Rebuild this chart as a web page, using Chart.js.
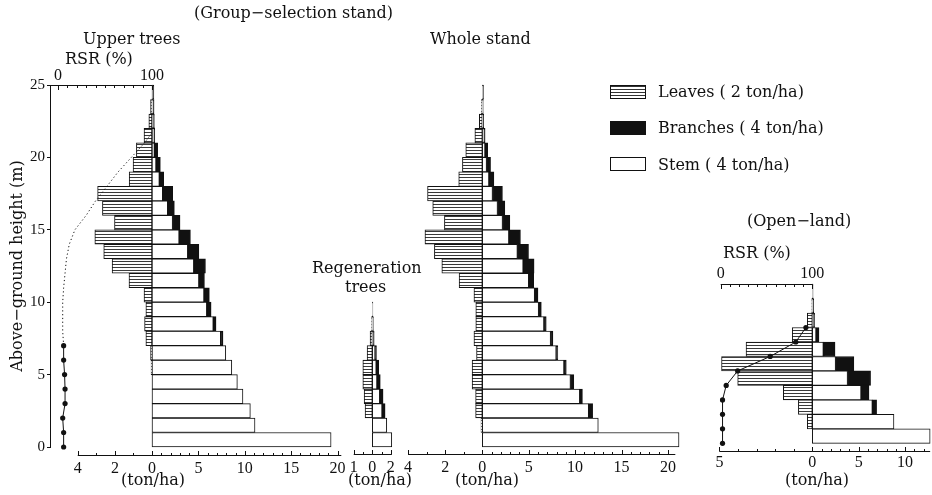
<!DOCTYPE html>
<html>
<head>
<meta charset="utf-8">
<title>Stratified clip diagrams</title>
<script src="https://cdn.jsdelivr.net/npm/chart.js@4.4.1/dist/chart.umd.min.js"></script>
<style>
  body { margin: 0; background: #fff; }
  #wrap { position: relative; width: 932px; height: 495px; overflow: hidden; background: #fff; }
  #wrap canvas { position: absolute; top: 0; }
  .t { position: absolute; font-family: 'DejaVu Serif', serif; font-size: 16px; line-height: 20px; color: #111; white-space: nowrap; }
  .key { position: absolute; left: 610px; width: 34px; height: 12px; border: 1px solid #111; }
</style>
</head>
<body>
<div id="wrap">
  <canvas id="upper" width="370" height="495" style="left:0px"></canvas>
  <canvas id="regen" width="80" height="495" style="left:330px"></canvas>
  <canvas id="whole" width="310" height="495" style="left:385px"></canvas>
  <canvas id="open" width="237" height="495" style="left:695px"></canvas>

  <div class="t" style="left:194px;top:3px">(Group−selection stand)</div>
  <div class="t" style="left:83px;top:29px">Upper trees</div>
  <div class="t" style="left:65px;top:49px">RSR (%)</div>
  <div class="t" style="left:430px;top:29px">Whole stand</div>
  <div class="t" style="left:312px;top:258px">Regeneration</div>
  <div class="t" style="left:345px;top:277px">trees</div>
  <div class="t" style="left:747px;top:211px">(Open−land)</div>
  <div class="t" style="left:723px;top:243px">RSR (%)</div>
  <div class="t" style="left:121px;top:470px">(ton/ha)</div>
  <div class="t" style="left:348px;top:470px">(ton/ha)</div>
  <div class="t" style="left:455px;top:470px">(ton/ha)</div>
  <div class="t" style="left:785px;top:470px">(ton/ha)</div>

  <div class="key" style="top:85px;background:repeating-linear-gradient(#333 0 1px,#fff 1px 3px)"></div>
  <div class="key" style="top:121px;background:#111"></div>
  <div class="key" style="top:157px;background:#fff"></div>
  <div class="t" style="left:658px;top:82px">Leaves ( 2 ton/ha)</div>
  <div class="t" style="left:658px;top:118px">Branches ( 4 ton/ha)</div>
  <div class="t" style="left:658px;top:155px">Stem ( 4 ton/ha)</div>
</div>

<script>
// Productive structure of a group-selection stand and an open-land stand

// layers are 1 m thick, named by their lower height (m)
const upperLayers = [0, 1, 2, 3, 4, 5, 6, 7, 8, 9, 10, 11, 12, 13, 14, 15, 16, 17, 18, 19, 20, 21, 22, 23, 24];
const upperStem = [19.3, 11.1, 10.6, 9.8, 9.2, 8.6, 7.95, 7.4, 6.6, 5.9, 5.6, 5.05, 4.5, 3.85, 2.92, 2.22, 1.69, 1.15, 0.79, 0.43, 0.25, 0.25, 0.2, 0.1, 0.05];
const upperBranches = [0, 0, 0, 0, 0, 0, 0, 0.25, 0.3, 0.47, 0.58, 0.6, 1.26, 1.2, 1.22, 0.8, 0.72, 1.08, 0.47, 0.47, 0.36, 0.05, 0.05, 0.12, 0.15];
const upperLeaves = [0, 0, 0, 0, 0, 0.05, 0.08, 0.33, 0.4, 0.33, 0.43, 1.24, 2.15, 2.6, 3.08, 2.02, 2.67, 2.93, 1.23, 1.02, 0.84, 0.43, 0.17, 0.08, 0];

// relative light intensity (RSR %) in the upper-tree stand
const upperRsrHeights = [0, 1, 2, 3, 4, 5, 6, 7];
const upperRsr = [6, 6, 5, 7.5, 7.5, 7, 6, 6];
const upperRsrCurveHeights = [7, 8, 9, 10, 11, 12, 13, 14, 15, 16, 17, 18, 19, 20, 21, 21.7];
const upperRsrCurve = [6, 5, 5, 5, 6, 7.5, 9, 12, 18, 30, 40, 52, 64, 78, 92, 100];

const regenLayers = [0, 1, 2, 3, 4, 5, 6, 7, 8, 9];
const regenStem = [2.1, 1.56, 1.05, 0.8, 0.5, 0.42, 0.3, 0.12, 0.06, 0.03];
const regenBranches = [0, 0, 0.33, 0.36, 0.36, 0.27, 0.15, 0.08, 0.05, 0.03];
const regenLeaves = [0, 0, 0.39, 0.44, 0.51, 0.51, 0.28, 0.12, 0.04, 0];

const wholeLayers = [0, 1, 2, 3, 4, 5, 6, 7, 8, 9, 10, 11, 12, 13, 14, 15, 16, 17, 18, 19, 20, 21, 22, 23, 24];
const wholeStem = [21.2, 12.5, 11.46, 10.5, 9.5, 8.8, 7.96, 7.36, 6.64, 6.07, 5.64, 5.0, 4.4, 3.78, 2.86, 2.18, 1.64, 1.1, 0.71, 0.46, 0.29, 0.2, 0.1, 0.05, 0.03];
const wholeBranches = [0, 0, 0.43, 0.29, 0.36, 0.25, 0.18, 0.25, 0.25, 0.29, 0.36, 0.54, 1.18, 1.2, 1.25, 0.79, 0.79, 1.07, 0.54, 0.43, 0.29, 0.1, 0.05, 0.05, 0.1];
const wholeLeaves = [0, 0.07, 0.36, 0.36, 0.55, 0.55, 0.31, 0.45, 0.35, 0.35, 0.45, 1.25, 2.18, 2.58, 3.09, 2.04, 2.67, 2.95, 1.27, 1.07, 0.89, 0.4, 0.16, 0.05, 0];

const openLayers = [0, 1, 2, 3, 4, 5, 6, 7, 8, 9, 10];
const openStem = [12.7, 8.8, 6.47, 5.25, 3.8, 2.51, 1.19, 0.4, 0.15, 0.05, 0.03];
const openBranches = [0, 0, 0.46, 0.86, 2.48, 1.97, 1.26, 0.32, 0.1, 0.1, 0.05];
const openLeaves = [0, 0.27, 0.75, 1.56, 4.02, 4.89, 3.57, 1.08, 0.27, 0.03, 0];
const openRsrHeights = [0, 1, 2, 3, 4, 5, 6, 7, 8];
const openRsr = [2, 2, 2, 2, 6, 18.5, 54, 82, 93];

// tick labels
const heightTicks = [0, 5, 10, 15, 20, 25];
const rsrTicks = [0, 100];
const bigStemTicks = [0, 5, 10, 15, 20];
const bigLeafTicks = [4, 2];
const regenStemTicks = [0, 2];
const regenLeafTicks = [1];
const openStemTicks = [0, 5, 10];
const openLeafTicks = [5];

const ink = '#111';
const K = 9.28;      // px per ton/ha of stem and branches
const KL = 2 * K;    // leaves drawn at twice that scale
const numFont = { family: 'Liberation Serif', size: 16 };

// axis lines that only cover part of the plot, with inward tick marks
const rangeAxes = {
	id: 'rangeAxes',
	afterDatasetsDraw(chart, args, opts) {
		const { ctx, chartArea } = chart;
		ctx.save();
		ctx.strokeStyle = ink;
		ctx.lineWidth = 1;
		ctx.beginPath();
		for (const a of opts.axes || []) {
			const s = chart.scales[a.scale];
			const top = a.edge === 'top';
			const y = Math.round(top ? chartArea.top : chartArea.bottom + a.gap) + 0.5;
			const dir = top ? 1 : -1;
			const x0 = a.from === null ? chartArea.left : s.getPixelForValue(a.from);
			ctx.moveTo(x0, y);
			ctx.lineTo(s.getPixelForValue(a.to), y);
			const n = Math.round((a.tickEnd - a.tickStart) / a.step);
			for (let i = 0; i <= n; i++) {
				const v = a.tickStart + i * a.step;
				const isMajor = Math.abs(v / a.major - Math.round(v / a.major)) < 1e-6;
				const px = Math.round(s.getPixelForValue(v)) + 0.5;
				ctx.moveTo(px, y);
				ctx.lineTo(px, y + dir * (isMajor ? 4.5 : 2.5));
			}
		}
		ctx.stroke();
		ctx.restore();
	}
};

function drawStand(id, p) {
	const canvas = document.getElementById(id);
	const ctx = canvas.getContext('2d');
	const left = parseFloat(canvas.style.left);
	const zero = p.zero - left;
	const bottomBand = canvas.height - p.bottom;

	// horizontal hatching for the leaves
	const tile = document.createElement('canvas');
	tile.width = 4;
	tile.height = 3;
	const t = tile.getContext('2d');
	t.fillStyle = '#fff';
	t.fillRect(0, 0, 4, 3);
	t.fillStyle = '#3a3a3a';
	t.fillRect(0, 0, 4, 1);
	const hatch = ctx.createPattern(tile, 'repeat');

	const layerData = (vals) => vals.map((v, i) => ({ x: v, y: p.layers[i] + 0.5 }));
	const bar = (label, vals, axis, fill) => ({
		type: 'bar',
		label: label,
		data: layerData(vals),
		xAxisID: axis,
		yAxisID: 'height',
		backgroundColor: fill,
		borderColor: ink,
		borderWidth: 1,
		borderSkipped: false,
		grouped: false,
		barPercentage: 1,
		categoryPercentage: 1,
		stack: 'tree',
		clip: false,
		order: 1
	});

	const datasets = [
		bar('Stem', p.stem, 'x', '#fff'),
		bar('Branches', p.branches, 'x', ink),
		bar('Leaves', p.leaves, 'xl', hatch)
	];
	// light curves go on top of the bars
	(p.rsrLines || []).forEach(l => {
		datasets.push({
			type: 'line',
			label: 'RSR',
			data: l.heights.map((h, i) => ({ x: l.values[i], y: h })),
			xAxisID: 'rsr',
			yAxisID: 'height',
			borderColor: ink,
			borderWidth: 1,
			borderDash: l.dotted ? [1.2, 2.6] : [],
			pointRadius: l.dotted ? 0 : 2.6,
			pointBackgroundColor: ink,
			pointBorderWidth: 0,
			fill: false,
			tension: 0,
			clip: false,
			order: 0
		});
	});

	// leaves share the stem axis for their labels: one leaves ton sits KL/K stem units left of zero
	const leafToStem = KL / K;
	const scales = {
		height: {
			type: 'linear',
			axis: 'y',
			position: 'left',
			offset: false,
			min: 0,
			max: p.maxHeight,
			display: !!p.axisWidth,
			afterBuildTicks: (s) => { s.ticks = heightTicks.map(v => ({ value: v })); },
			afterFit: (s) => { s.width = p.axisWidth || 0; },
			grid: { drawOnChartArea: false, offset: false, color: ink, tickLength: 3 },
			border: { color: ink, width: 1 },
			ticks: { color: ink, font: { family: 'Liberation Serif', size: 15 }, padding: 2 },
			title: {
				display: true,
				text: 'Above−ground height (m)',
				color: ink,
				font: { family: 'DejaVu Serif', size: 16 },
				padding: { top: 8, bottom: 0 }
			}
		},
		x: {
			type: 'linear',
			axis: 'x',
			position: 'bottom',
			stacked: true,
			afterBuildTicks: (s) => {
				s.ticks = p.leafTicks.map(v => ({ value: -v * leafToStem }))
					.concat(p.stemTicks.map(v => ({ value: v })));
			},
			afterFit: (s) => { s.height = bottomBand; },
			grid: { display: false, drawTicks: false },
			border: { display: false },
			ticks: {
				color: ink, font: numFont, padding: p.labelPad, autoSkip: false, maxRotation: 0,
				callback: (v) => String(v < 0 ? -v / leafToStem : v)
			}
		},
		xl: {
			type: 'linear',
			axis: 'x',
			position: 'bottom',
			display: false,
			reverse: true
		}
	};
	const axes = [
		{ scale: 'xl', edge: 'bottom', gap: p.axisGap, from: 0, to: p.leafEnd, tickStart: 0, tickEnd: p.leafEnd, step: p.leafStep, major: p.leafMajor },
		{ scale: 'x', edge: 'bottom', gap: p.axisGap, from: 0, to: p.stemEnd, tickStart: 0, tickEnd: Math.floor(p.stemEnd), step: 1, major: p.stemMajor }
	];
	let padTop = p.top;
	if (p.rsr) {
		padTop = 0;
		scales.rsr = {
			type: 'linear',
			axis: 'x',
			position: 'top',
			afterBuildTicks: (s) => { s.ticks = rsrTicks.map(v => ({ value: v })); },
			afterFit: (s) => { s.height = p.top; },
			grid: { display: false, drawTicks: false },
			border: { display: false },
			ticks: { color: ink, font: numFont, padding: p.rsr.pad, autoSkip: false, maxRotation: 0 }
		};
		axes.push({ scale: 'rsr', edge: 'top', gap: 0, from: p.rsr.from, to: 100, tickStart: 0, tickEnd: 100, step: 10, major: 100 });
	}

	// pin each horizontal scale so its zero sits on the page position
	function pinRanges(caLeft, caRight) {
		scales.x.min = (caLeft - zero) / K;
		scales.x.max = (caRight - zero) / K;
		scales.xl.min = (zero - caRight) / KL;
		scales.xl.max = (zero - caLeft) / KL;
		if (p.rsr) {
			const pr = (p.rsr.full - p.rsr.zero) / 100;
			const r0 = p.rsr.zero - left;
			scales.rsr.min = (caLeft - r0) / pr;
			scales.rsr.max = (caRight - r0) / pr;
		}
	}
	pinRanges(p.axisWidth || 0, canvas.width);

	const chart = new Chart(ctx, {
		type: 'bar',
		data: { datasets: datasets },
		plugins: [rangeAxes],
		options: {
			indexAxis: 'y',
			responsive: false,
			animation: false,
			devicePixelRatio: 1,
			layout: { padding: { top: padTop, bottom: 0, left: 0, right: 0 } },
			scales: scales,
			plugins: {
				legend: { display: false },
				tooltip: { enabled: false },
				rangeAxes: { axes: axes }
			}
		}
	});

	// the layout may trim the plot area for label room; re-pin to the area it really got
	for (let i = 0; i < 3; i++) {
		const ca = chart.chartArea;
		pinRanges(ca.left, ca.right);
		Object.assign(chart.options.scales.x, { min: scales.x.min, max: scales.x.max });
		Object.assign(chart.options.scales.xl, { min: scales.xl.min, max: scales.xl.max });
		if (p.rsr) Object.assign(chart.options.scales.rsr, { min: scales.rsr.min, max: scales.rsr.max });
		chart.update();
	}
}

drawStand('upper', {
	layers: upperLayers, stem: upperStem, branches: upperBranches, leaves: upperLeaves,
	stemTicks: bigStemTicks, leafTicks: bigLeafTicks,
	zero: 152, axisWidth: 50, top: 85, bottom: 447, maxHeight: 25,
	axisGap: 8, labelPad: 12, leafEnd: 4, leafStep: 1, leafMajor: 2, stemEnd: 20.4, stemMajor: 5,
	rsr: { zero: 58, full: 152, pad: 0, from: null },
	rsrLines: [
		{ heights: upperRsrHeights, values: upperRsr, dotted: false },
		{ heights: upperRsrCurveHeights, values: upperRsrCurve, dotted: true }
	]
});

drawStand('regen', {
	layers: regenLayers, stem: regenStem, branches: regenBranches, leaves: regenLeaves,
	stemTicks: regenStemTicks, leafTicks: regenLeafTicks,
	zero: 372.3, top: 85, bottom: 447, maxHeight: 25,
	axisGap: 7, labelPad: 11, leafEnd: 1, leafStep: 0.5, leafMajor: 1, stemEnd: 2.1, stemMajor: 2
});

drawStand('whole', {
	layers: wholeLayers, stem: wholeStem, branches: wholeBranches, leaves: wholeLeaves,
	stemTicks: bigStemTicks, leafTicks: bigLeafTicks,
	zero: 482.3, top: 85, bottom: 447, maxHeight: 25,
	axisGap: 7, labelPad: 11, leafEnd: 4, leafStep: 1, leafMajor: 2, stemEnd: 20.8, stemMajor: 5
});

drawStand('open', {
	layers: openLayers, stem: openStem, branches: openBranches, leaves: openLeaves,
	stemTicks: openStemTicks, leafTicks: openLeafTicks,
	zero: 812.3, top: 284.1, bottom: 443.3, maxHeight: 11,
	axisGap: 7.4, labelPad: 10, leafEnd: 5, leafStep: 1, leafMajor: 5, stemEnd: 12.7, stemMajor: 5,
	rsr: { zero: 720.7, full: 812.3, pad: 1, from: 0 },
	rsrLines: [
		{ heights: openRsrHeights, values: openRsr, dotted: false }
	]
});
</script>
</body>
</html>
